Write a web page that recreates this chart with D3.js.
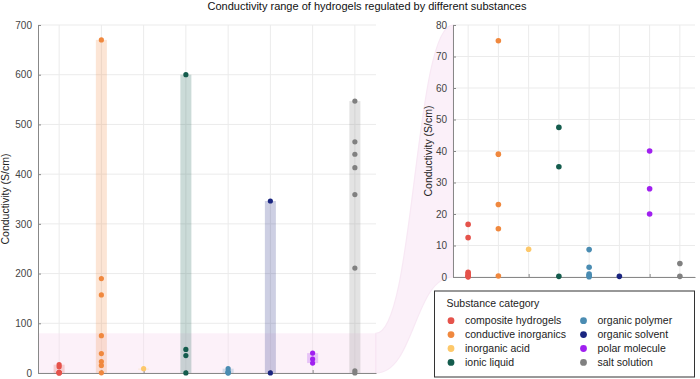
<!DOCTYPE html>
<html>
<head>
<meta charset="utf-8">
<script src="https://cdn.jsdelivr.net/npm/d3@7"></script>
<style>
  body { margin: 0; background: #fff; }
  svg { font-family: "Liberation Sans", Arial, sans-serif; }
  .tick text { fill: #444; font-size: 10px; }
</style>
</head>
<body>
<svg id="chart" width="700" height="379"></svg>
<script>
// categories and colours
const categories = ["composite hydrogels", "conductive inorganics", "inorganic acid", "ionic liquid",
    "organic polymer", "organic solvent", "polar molecule", "salt solution"];
const colors = ["#e5534b", "#f0883e", "#fdc86a", "#145c4d", "#4a8cb2", "#1a2580", "#a020f0", "#808080"];

// conductivity values (S/cm) per category
const compositeVals = [16.7, 12.5, 1.5, 1.0, 0.5, 0.2, 0.05];
const inorganicsVals = [670, 190, 157, 75, 39, 23, 15.3, 0.3];
const acidVals = [8.8];
const ionicVals = [600, 47.5, 35, 0.2];
const polymerVals = [8.7, 3.1, 0.9, 0.4, 0.1];
const solventVals = [346, 0.2];
const polarVals = [40, 28, 20];
const saltVals = [547, 465, 440, 413, 359, 211, 4.3, 0.2];

const leftTicks = [0, 100, 200, 300, 400, 500, 600, 700];
const rightTicks = [0, 10, 20, 30, 40, 50, 60, 70, 80];
const zoomMax = 80;

const allVals = [compositeVals, inorganicsVals, acidVals, ionicVals, polymerVals, solventVals, polarVals, saltVals];
const points = [];
allVals.forEach((arr, i) => arr.forEach(v => points.push({ cat: categories[i], value: v })));
const ranges = allVals.map((arr, i) => ({ cat: categories[i], min: d3.min(arr), max: d3.max(arr) }));
const color = d3.scaleOrdinal().domain(categories).range(colors);

const svg = d3.select("#chart");

svg.append("text")
    .attr("x", 367).attr("y", 10)
    .attr("text-anchor", "middle")
    .style("font-size", "11px").style("fill", "#111")
    .text("Conductivity range of hydrogels regulated by different substances");

// left panel
const L = { left: 38, right: 376, top: 25, bottom: 373 };
const xL = d3.scalePoint().domain(categories).range([L.left, L.right]).padding(0.5);
const yL = d3.scaleLinear().domain([0, 700]).range([L.bottom, L.top]);

// right panel
const R = { left: 453, right: 695, top: 25, bottom: 277 };
const xR = d3.scalePoint().domain(categories).range([R.left, R.right]).padding(0.5);
const yR = d3.scaleLinear().domain([0, zoomMax]).range([R.bottom, R.top]);

function grid(g, x, y, box, ticks) {
    g.selectAll(".hg").data(ticks).join("line")
        .attr("x1", box.left).attr("x2", box.right)
        .attr("y1", d => y(d)).attr("y2", d => y(d))
        .attr("stroke", "#ebebeb");
    g.selectAll(".vg").data(categories).join("line")
        .attr("x1", d => x(d)).attr("x2", d => x(d))
        .attr("y1", box.top).attr("y2", box.bottom)
        .attr("stroke", "#ebebeb");
}

grid(svg.append("g"), xL, yL, L, leftTicks);
grid(svg.append("g"), xR, yR, R, rightTicks);

// zoom highlight band and connector
const pinkFill = "#f7dcf1";
svg.append("rect")
    .attr("x", L.left).attr("y", yL(zoomMax))
    .attr("width", L.right - L.left).attr("height", yL(0) - yL(zoomMax))
    .attr("fill", pinkFill).attr("opacity", 0.4);

const c1 = L.right + (R.left - L.right) * 0.5;
const conn = d3.path();
conn.moveTo(L.right, yL(zoomMax));
conn.bezierCurveTo(c1, yL(zoomMax), c1, yR(zoomMax), R.left, yR(zoomMax));
conn.lineTo(R.left, yR(0));
conn.bezierCurveTo(c1, yR(0), c1, yL(0), L.right, yL(0));
conn.closePath();
svg.append("path")
    .attr("d", conn.toString())
    .attr("fill", pinkFill).attr("opacity", 0.4)
    .attr("stroke", "#eec6e6").attr("stroke-width", 1.2);

// range bars on left panel
svg.append("g").selectAll("rect").data(ranges).join("rect")
    .attr("x", d => xL(d.cat) - 5.5)
    .attr("width", 11)
    .attr("y", d => yL(d.max))
    .attr("height", d => Math.max(1, yL(d.min) - yL(d.max)))
    .attr("fill", d => color(d.cat))
    .attr("opacity", 0.22);

// axes
function styleAxis(g) {
    g.select(".domain").attr("stroke", "#888");
    g.selectAll(".tick line").attr("stroke", "#888");
}

svg.append("g")
    .attr("transform", `translate(${L.left},0)`)
    .call(d3.axisLeft(yL).tickValues(leftTicks).tickSize(-3).tickSizeOuter(0).tickPadding(6))
    .call(styleAxis);
svg.append("g")
    .attr("transform", `translate(0,${L.bottom})`)
    .call(d3.axisBottom(xL).tickSize(-3).tickSizeOuter(0).tickFormat(""))
    .call(styleAxis);

svg.append("g")
    .attr("transform", `translate(${R.left},0)`)
    .call(d3.axisLeft(yR).tickValues(rightTicks).tickSize(-3).tickSizeOuter(0).tickPadding(6))
    .call(styleAxis);
svg.append("g")
    .attr("transform", `translate(0,${R.bottom})`)
    .call(d3.axisBottom(xR).tickSize(-3).tickSizeOuter(0).tickFormat(""))
    .call(styleAxis);

// axis titles
svg.append("text")
    .attr("transform", `translate(9,${(L.top + L.bottom) / 2}) rotate(-90)`)
    .attr("text-anchor", "middle")
    .style("font-size", "10.5px").style("fill", "#222")
    .text("Conductivity (S/cm)");
svg.append("text")
    .attr("transform", `translate(432,${(R.top + R.bottom) / 2}) rotate(-90)`)
    .attr("text-anchor", "middle")
    .style("font-size", "10.5px").style("fill", "#222")
    .text("Conductivity (S/cm)");

// points
svg.append("g").selectAll("circle").data(points).join("circle")
    .attr("cx", d => xL(d.cat))
    .attr("cy", d => yL(d.value))
    .attr("r", 2.6)
    .attr("fill", d => color(d.cat));

svg.append("g").selectAll("circle").data(points.filter(d => d.value <= zoomMax)).join("circle")
    .attr("cx", d => xR(d.cat))
    .attr("cy", d => yR(d.value))
    .attr("r", 2.8)
    .attr("fill", d => color(d.cat));

// legend
const lg = svg.append("g").attr("transform", "translate(434.5,291)");
lg.append("rect")
    .attr("width", 260).attr("height", 86)
    .attr("fill", "#fff").attr("stroke", "#333").attr("stroke-width", 1);
lg.append("text")
    .attr("x", 12).attr("y", 16)
    .style("font-size", "10.5px").style("fill", "#222")
    .text("Substance category");
const items = lg.selectAll(".item").data(categories).join("g")
    .attr("transform", (d, i) => `translate(${i < 4 ? 16.5 : 149}, ${29.7 + (i % 4) * 13.9})`);
items.append("circle").attr("r", 3.4).attr("fill", d => color(d));
items.append("text")
    .attr("x", 14).attr("dy", "0.35em")
    .style("font-size", "10.5px").style("fill", "#222")
    .text(d => d);
</script>
</body>
</html>
